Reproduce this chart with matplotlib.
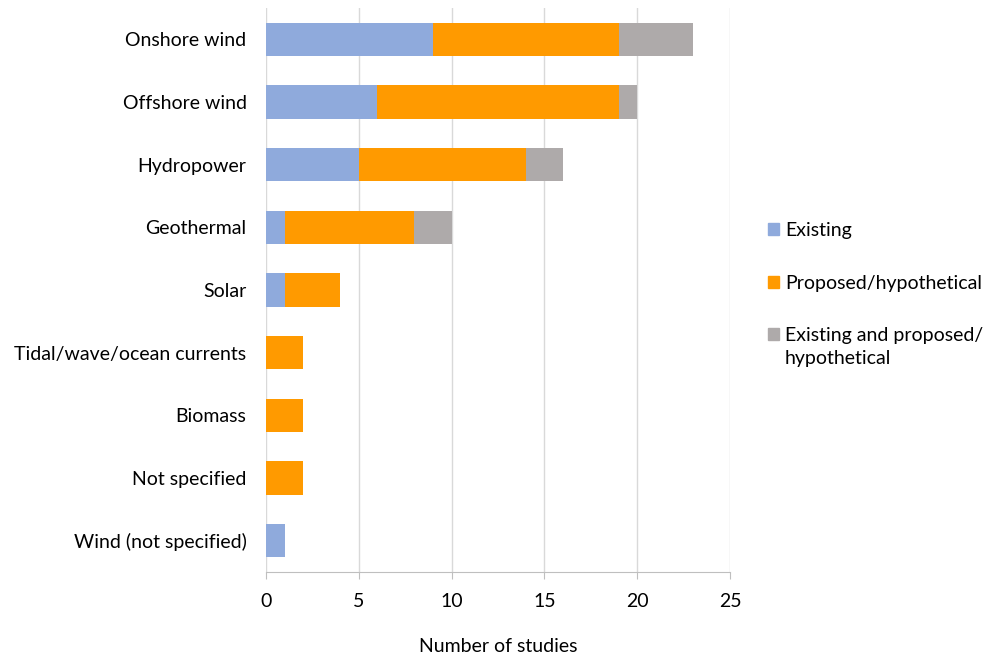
"""
stacked horizontal bars: renewable energy types by number of studies.
"""

import matplotlib.pyplot as plt
from matplotlib.patches import Rectangle

plt.rcParams['font.family'] = ['Lato', 'DejaVu Sans']

# # data
CATEGORIES = ['Onshore wind', 'Offshore wind', 'Hydropower', 'Geothermal', 'Solar',
              'Tidal/wave/ocean currents', 'Biomass', 'Not specified', 'Wind (not specified)']
EXISTING = [9, 6, 5, 1, 1, 0, 0, 0, 1]
PROPOSED = [10, 13, 9, 7, 3, 2, 2, 2, 0]
BOTH = [4, 1, 2, 2, 0, 0, 0, 0, 0]
SERIES = ['Existing', 'Proposed/hypothetical', 'Existing and proposed/\nhypothetical']
COLORS = ['#8FAADC', '#FF9A00', '#AEAAAA']
X_TICKS = [0, 5, 10, 15, 20, 25]

FS = 14

fig = plt.figure(figsize=(9.86, 6.61), dpi=100)
ax = fig.add_axes([266 / 986, 1 - 572 / 661, (730 - 266) / 986, (572 - 8) / 661])

y = list(range(len(CATEGORIES)))
left = [0] * len(CATEGORIES)
for vals, color in zip([EXISTING, PROPOSED, BOTH], COLORS):
    ax.barh(y, vals, left=left, height=0.53, color=color, zorder=3)
    left = [a + b for a, b in zip(left, vals)]

ax.set_ylim(len(CATEGORIES) - 0.5, -0.5)
ax.set_yticks(y)
ax.set_yticklabels(CATEGORIES, fontsize=FS, color='#000000')
ax.set_xlim(0, 25)
ax.set_xticks(X_TICKS)
ax.set_xticklabels([str(t) for t in X_TICKS], fontsize=FS, color='#000000')
ax.tick_params(axis='y', length=0, pad=14)
ax.tick_params(axis='x', length=5, color='#BFBFBF', pad=10)
ax.grid(axis='x', color='#D9D9D9', linewidth=1, zorder=0)
for side in ['top', 'right', 'left']:
    ax.spines[side].set_visible(False)
ax.spines['bottom'].set_color('#BFBFBF')
ax.set_xlabel('Number of studies', fontsize=FS, labelpad=20)

# legend drawn by hand so the square sits next to the first line
legend_y = [229, 282, 334]
for name, color, ly in zip(SERIES, COLORS, legend_y):
    fig.add_artist(Rectangle((768 / 986, 1 - (ly + 6) / 661), 11 / 986, 12 / 661,
                             transform=fig.transFigure, color=color))
    fig.text(785 / 986, 1 - (ly - 7) / 661, name, fontsize=FS, va='top',
             linespacing=1.45)

plt.savefig('out.png', dpi=100)
